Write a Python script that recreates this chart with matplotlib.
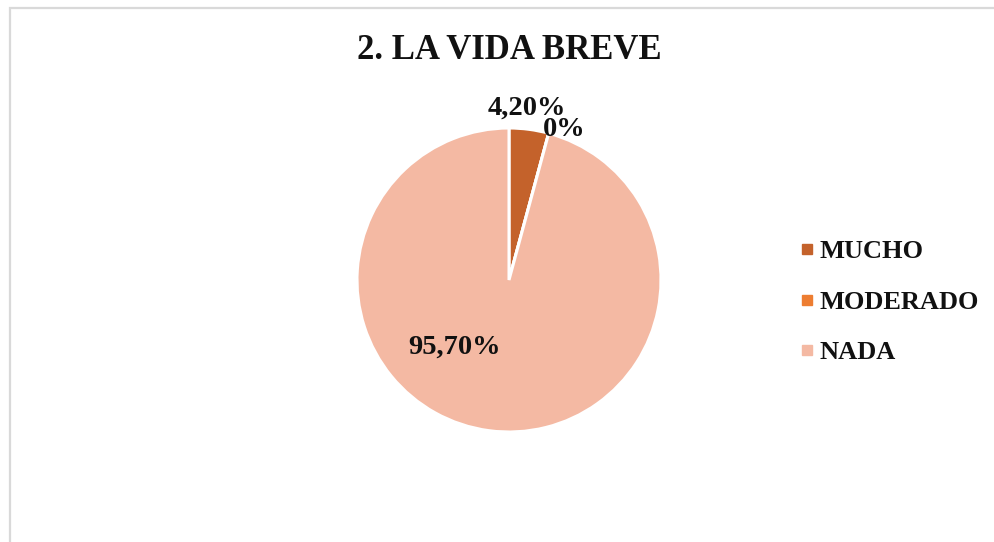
import matplotlib.pyplot as plt
from matplotlib.lines import Line2D
from matplotlib.patches import Rectangle

categories = ['MUCHO', 'MODERADO', 'NADA']
values = [4.2, 0.0, 95.7]
labels = ['4,20%', '0%', '95,70%']
colors = ['#C4622B', '#ED7D31', '#F4B9A3']

plt.rcParams['font.family'] = ['Liberation Serif', 'DejaVu Serif']
plt.rcParams['font.weight'] = 'bold'

fig = plt.figure(figsize=(9.95, 5.42), dpi=100)

# chart border (light grey, cut by the right and bottom image edge)
fig.patches.append(Rectangle((10 / 995, -0.05), 1.1, (542 - 8) / 542 + 0.05,
                             transform=fig.transFigure, fill=False,
                             edgecolor='#d9d9d9', linewidth=1.6))

cx, cy, r = 509, 280, 152
ax = fig.add_axes([(cx - r) / 995, (542 - cy - r) / 542, 2 * r / 995, 2 * r / 542])
wedges, _ = ax.pie(values, colors=colors, startangle=90, counterclock=False,
                   wedgeprops=dict(edgecolor='white', linewidth=2.2))
ax.set_xlim(-1, 1)
ax.set_ylim(-1, 1)
ax.set_aspect('auto')
ax.axis('off')

label_pos = [(0.115, 1.13), (0.36, 0.99), (-0.36, -0.445)]
for txt, (x, y) in zip(labels, label_pos):
    ax.text(x, y, txt, ha='center', va='center', fontsize=20.5, fontweight='bold',
            color='#111111', clip_on=False)

fig.text(509 / 995, 1 - 51 / 542, '2. LA VIDA BREVE', ha='center', va='center',
         fontsize=25, fontweight='bold', color='#111111')

handles = [Line2D([], [], marker='s', linestyle='none', markersize=7,
                  markerfacecolor=c, markeredgecolor=c) for c in colors]
fig.legend(handles, categories, loc='center left', bbox_to_anchor=(800 / 995, 1 - 302 / 542),
           frameon=False, fontsize=19, labelspacing=1.02, handlelength=0.55,
           handletextpad=0.18, borderpad=0, borderaxespad=0, labelcolor='#111111')

fig.savefig('out.png', dpi=100)
